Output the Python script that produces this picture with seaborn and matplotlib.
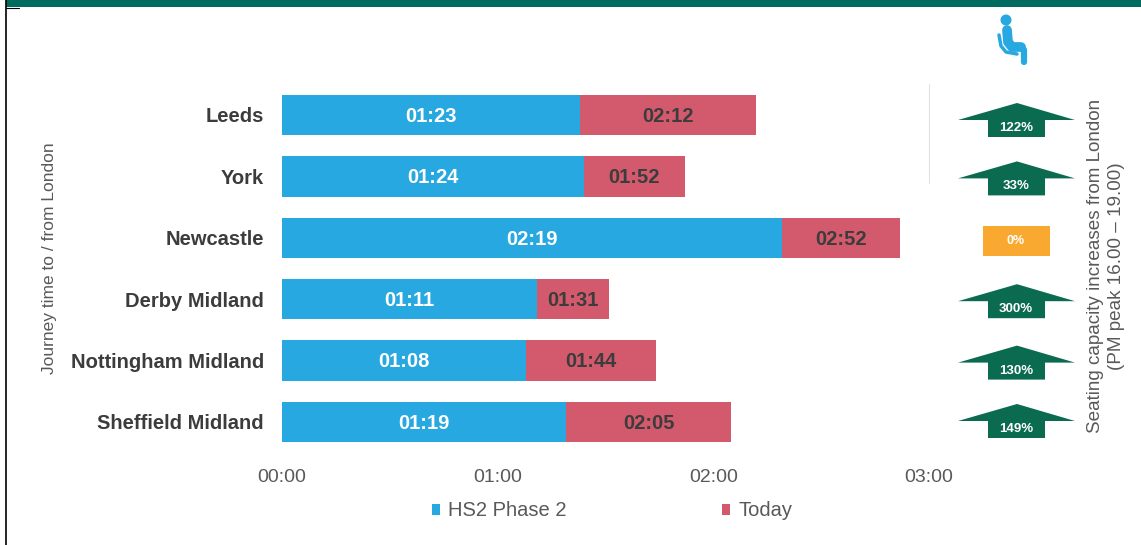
import matplotlib
matplotlib.use('Agg')
import matplotlib.pyplot as plt
from matplotlib.patches import Polygon, Rectangle, Circle
import pandas as pd
import seaborn as sns

# journey times in minutes
stations = ['Leeds', 'York', 'Newcastle', 'Derby Midland', 'Nottingham Midland', 'Sheffield Midland']
hs2_minutes = [83, 84, 139, 71, 68, 79]
today_minutes = [132, 112, 172, 91, 104, 125]
capacity_pct = [122, 33, 0, 300, 130, 149]
hour_ticks = [0, 60, 120, 180]
hour_labels = ['00:00', '01:00', '02:00', '03:00']

# small shifts of the capacity arrows from the row centre, in pixels
arrow_shift = [5, 2, 3, 2, 2, -1]

BLUE = '#27A8E0'
RED = '#D25A6C'
GREEN = '#0B6B50'
ORANGE = '#F9A92F'
GREY = '#595959'
DARK = '#3C3C3C'
W, H = 1141, 545


def hhmm(m):
    return f'{m // 60:02d}:{m % 60:02d}'


sns.set_theme(style='white')
plt.rcParams['font.family'] = ['Liberation Sans', 'DejaVu Sans']

df = pd.DataFrame({'station': stations, 'HS2 Phase 2': hs2_minutes, 'Today': today_minutes})

fig = plt.figure(figsize=(W / 100, H / 100), dpi=100)
ax = fig.add_axes([282 / W, 1 - 452.7 / H, (929 - 282) / W, (452.7 - 84.3) / H])

# today goes underneath, hs2 on top of it
sns.barplot(data=df, y='station', x='Today', color=RED, width=0.66, saturation=1, linewidth=0, ax=ax, label='Today')
sns.barplot(data=df, y='station', x='HS2 Phase 2', color=BLUE, width=0.66, saturation=1, linewidth=0, ax=ax,
            label='HS2 Phase 2')

for i, (a, b) in enumerate(zip(hs2_minutes, today_minutes)):
    ax.text(a / 2, i + 0.02, hhmm(a), ha='center', va='center', color='white', fontsize=14.5, fontweight='bold')
    ax.text((a + b) / 2, i + 0.02, hhmm(b), ha='center', va='center', color=DARK, fontsize=14.5, fontweight='bold')

ax.set_xlim(0, 180)
ax.set_ylim(5.5, -0.5)
ax.set_xticks(hour_ticks)
ax.set_xticklabels(hour_labels, fontsize=14, color=GREY)
ax.tick_params(axis='x', length=0, pad=12)
ax.tick_params(axis='y', length=0, pad=13)
for lab in ax.get_yticklabels():
    lab.set_fontsize(14.5)
    lab.set_fontweight('bold')
    lab.set_color(DARK)
ax.set_xlabel('')
ax.set_ylabel('')
sns.despine(ax=ax, left=True, bottom=True)

# thin line at 03:00 next to the first rows
ax.plot([180, 180], [-0.5, 1.1], color='#E2E2E2', lw=0.8, clip_on=False)

handles, labels = ax.get_legend_handles_labels()
order = [labels.index('HS2 Phase 2'), labels.index('Today')]
leg = ax.legend([handles[i] for i in order], [labels[i] for i in order], ncol=2, frameon=False,
                loc='center', bbox_to_anchor=((612 - 282) / 647, (452.7 - 511) / 368.4),
                fontsize=14.5, handlelength=0.42, handleheight=0.42, handletextpad=0.4, columnspacing=7.7)
for t in leg.get_texts():
    t.set_color(GREY)

# capacity arrows, same rows as the bars
cap = fig.add_axes([940 / W, 1 - 452.7 / H, 150 / W, (452.7 - 84.3) / H], sharey=ax)
cap.set_xlim(940, 1090)
cap.axis('off')
row_px = 61.4
for i, pct in enumerate(capacity_pct):
    cy = i + arrow_shift[i] / row_px
    if pct == 0:
        cap.add_patch(Rectangle((983, cy - 15 / row_px), 67, 30 / row_px, color=ORANGE, lw=0))
        cap.text(1016, cy, '0%', ha='center', va='center', color='white', fontsize=9, fontweight='bold')
    else:
        pts = [(958, cy), (1017, cy - 17 / row_px), (1075, cy), (1045, cy), (1045, cy + 17 / row_px),
               (988, cy + 17 / row_px), (988, cy)]
        cap.add_patch(Polygon(pts, closed=True, color=GREEN, lw=0))
        cap.text(1016, cy + 8 / row_px, f'{pct}%', ha='center', va='center', color='white',
                 fontsize=9.5, fontweight='bold')

fig.text(50 / W, 1 - 258 / H, 'Journey time to / from London', rotation=90, ha='center', va='center',
         fontsize=12.5, color=GREY)
fig.text(1106 / W, 1 - 266 / H, 'Seating capacity increases from London\n(PM peak 16.00 \u2013 19.00)',
         rotation=90, ha='center', va='center', ma='center', fontsize=13.6, color=GREY, linespacing=1.3)

# page furniture and seat icon, in pixels
deco = fig.add_axes([0, 0, 1, 1], zorder=-1)
deco.set_xlim(0, W)
deco.set_ylim(H, 0)
deco.axis('off')
deco.add_patch(Rectangle((6, 0), W - 6, 7, color='#006B5E', lw=0))
deco.plot([5.5, 5.5], [0, H], color='black', lw=1.2)
deco.plot([6, 19], [7.5, 7.5], color='black', lw=0.8)
deco.add_patch(Circle((1006, 20), 5.5, color=BLUE, lw=0))
deco.plot([1007, 1008, 1012, 1021], [30, 42, 47, 47], color=BLUE, lw=7, solid_capstyle='round',
          solid_joinstyle='round')
deco.plot([1022, 1024, 1024], [47, 50, 62], color=BLUE, lw=4.5, solid_capstyle='round', solid_joinstyle='round')
deco.plot([999, 1001, 1006, 1017], [35, 46, 52, 54], color=BLUE, lw=2.5, solid_capstyle='round')

fig.savefig('out.png', dpi=100)
